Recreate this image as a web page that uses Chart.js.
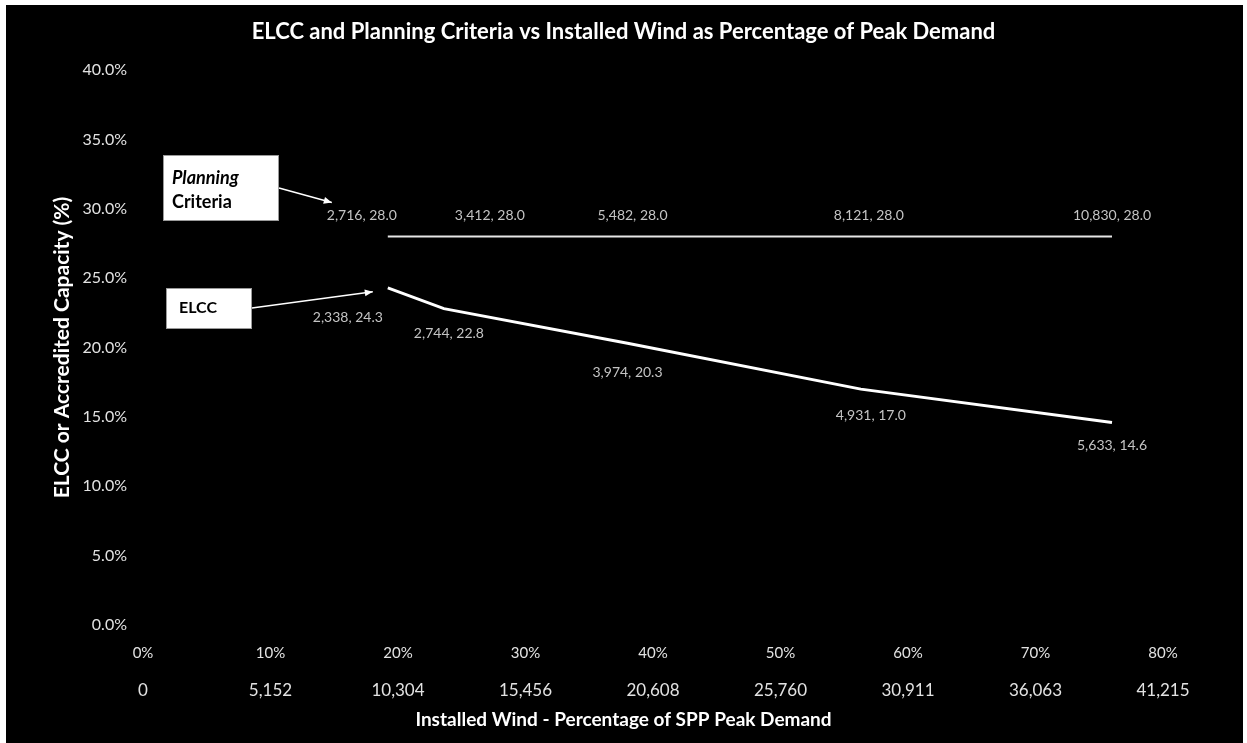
<!DOCTYPE html>
<html>
<head>
<meta charset="utf-8">
<script src="https://cdn.jsdelivr.net/npm/chart.js@4.4.1/dist/chart.umd.min.js"></script>
<style>
  html, body { margin: 0; padding: 0; background: #ffffff; }
  #wrap { width: 1247px; height: 743px; position: relative; }
  canvas { display: block; }
</style>
</head>
<body>
<div id="wrap"><canvas id="chart" width="1247" height="743"></canvas></div>
<script>
// Installed wind as % of SPP peak demand, for each study case
const installedPct = [19.2, 23.6, 38.0, 56.3, 76.0];
// Planning criteria (%) at each case
const planningCriteria = [28.0, 28.0, 28.0, 28.0, 28.0];
// ELCC (%) at each case
const elccValues = [24.3, 22.8, 20.3, 17.0, 14.6];
// Accredited capacity in MW shown beside each point
const planningMW = ['2,716', '3,412', '5,482', '8,121', '10,830'];
const elccMW = ['2,338', '2,744', '3,974', '4,931', '5,633'];
// Axis tick labels
const pctTickLabels = ['0%', '10%', '20%', '30%', '40%', '50%', '60%', '70%', '80%'];
const mwTickLabels = ['0', '5,152', '10,304', '15,456', '20,608', '25,760', '30,911', '36,063', '41,215'];
const yTickLabels = ['0.0%', '5.0%', '10.0%', '15.0%', '20.0%', '25.0%', '30.0%', '35.0%', '40.0%'];

const FONT = 'Lato, "Open Sans", "DejaVu Sans", sans-serif';
const TICK_COLOR = '#e2e2e2';

// Black panel behind the whole chart
const panel = {
  id: 'panel',
  beforeDraw(chart) {
    const ctx = chart.ctx;
    ctx.save();
    ctx.fillStyle = '#ffffff';
    ctx.fillRect(0, 0, chart.width, chart.height);
    ctx.fillStyle = '#000000';
    ctx.fillRect(6, 5, chart.width - 10, chart.height - 5);
    ctx.restore();
  }
};

// "MW, %" text next to every point
const pointLabels = {
  id: 'pointLabels',
  afterDatasetsDraw(chart) {
    const ctx = chart.ctx;
    ctx.save();
    ctx.font = '14px ' + FONT;
    ctx.fillStyle = '#c4c4c4';
    ctx.textAlign = 'center';
    ctx.textBaseline = 'middle';
    chart.data.datasets.forEach((ds, di) => {
      const meta = chart.getDatasetMeta(di);
      meta.data.forEach((pt, i) => {
        const off = ds.labelOffsets[i];
        const txt = ds.mwLabels[i] + ', ' + ds.data[i].y.toFixed(1);
        ctx.fillText(txt, pt.x + off[0], pt.y + off[1]);
      });
    });
    ctx.restore();
  }
};

function arrow(ctx, x1, y1, x2, y2) {
  ctx.beginPath();
  ctx.moveTo(x1, y1);
  ctx.lineTo(x2, y2);
  ctx.stroke();
  const a = Math.atan2(y2 - y1, x2 - x1);
  const L = 8, W = 3.5;
  ctx.beginPath();
  ctx.moveTo(x2, y2);
  ctx.lineTo(x2 - L * Math.cos(a) + W * Math.sin(a), y2 - L * Math.sin(a) - W * Math.cos(a));
  ctx.lineTo(x2 - L * Math.cos(a) - W * Math.sin(a), y2 - L * Math.sin(a) + W * Math.cos(a));
  ctx.closePath();
  ctx.fill();
}

// Series name callouts with arrows pointing at the first case
const callouts = {
  id: 'callouts',
  afterDraw(chart) {
    const ctx = chart.ctx;
    const p0 = chart.getDatasetMeta(0).data[0];
    const e0 = chart.getDatasetMeta(1).data[0];
    ctx.save();
    ctx.fillStyle = '#ffffff';
    ctx.strokeStyle = '#9a9a9a';
    ctx.lineWidth = 1;
    ctx.fillRect(163, 155, 115, 65);
    ctx.strokeRect(163.5, 155.5, 115, 65);
    ctx.fillRect(166, 288, 85, 40);
    ctx.strokeRect(166.5, 288.5, 85, 40);
    ctx.fillStyle = '#000000';
    ctx.textAlign = 'left';
    ctx.textBaseline = 'middle';
    ctx.font = 'italic bold 18px ' + FONT;
    ctx.fillText('Planning', 172, 178);
    ctx.font = 'bold 18px ' + FONT;
    ctx.fillText('Criteria', 172, 202);
    ctx.font = 'bold 16px ' + FONT;
    ctx.fillText('ELCC', 179, 308);
    ctx.strokeStyle = '#ffffff';
    ctx.fillStyle = '#ffffff';
    ctx.lineWidth = 1.5;
    arrow(ctx, 279, 188, p0.x - 56, p0.y - 34);
    arrow(ctx, 252, 308, e0.x - 15, e0.y + 4);
    ctx.restore();
  }
};

const ctx = document.getElementById('chart').getContext('2d');
new Chart(ctx, {
  type: 'line',
  data: {
    datasets: [
      {
        label: 'Planning Criteria',
        data: installedPct.map((x, i) => ({ x: x, y: planningCriteria[i] })),
        mwLabels: planningMW,
        labelOffsets: [[-26, -21], [46, -21], [5, -21], [8, -21], [0, -21]],
        borderColor: '#e6e6e6',
        borderWidth: 2,
        pointRadius: 0,
        tension: 0,
        xAxisID: 'x',
        yAxisID: 'y'
      },
      {
        label: 'ELCC',
        data: installedPct.map((x, i) => ({ x: x, y: elccValues[i] })),
        mwLabels: elccMW,
        labelOffsets: [[-40, 30], [5, 25], [0, 29], [10, 26], [0, 23]],
        borderColor: '#ffffff',
        borderWidth: 3,
        pointRadius: 0,
        tension: 0,
        xAxisID: 'x',
        yAxisID: 'y'
      }
    ]
  },
  options: {
    responsive: false,
    animation: false,
    devicePixelRatio: 1,
    layout: { padding: 0 },
    plugins: {
      legend: { display: false },
      tooltip: { enabled: false },
      title: {
        display: true,
        text: 'ELCC and Planning Criteria vs Installed Wind as Percentage of Peak Demand',
        color: '#ffffff',
        font: { family: FONT, size: 22, weight: 'bold' },
        padding: { top: 19, bottom: 24.6 }
      },
      subtitle: {
        display: true,
        position: 'bottom',
        text: 'Installed Wind - Percentage of SPP Peak Demand',
        color: '#ffffff',
        font: { family: FONT, size: 19, weight: 'bold' },
        padding: { top: 3.6, bottom: 11.6 }
      }
    },
    scales: {
      x: {
        type: 'linear',
        position: 'bottom',
        weight: 0,
        min: 0,
        max: 80,
        grid: { display: false, drawTicks: false },
        border: { display: false },
        ticks: {
          stepSize: 10,
          padding: 19,
          color: TICK_COLOR,
          font: { family: FONT, size: 15 },
          callback: (v) => pctTickLabels[Math.round(v / 10)]
        },
        afterFit: (s) => { s.height = 45; }
      },
      x2: {
        type: 'linear',
        position: 'bottom',
        weight: 1,
        min: 0,
        max: 80,
        grid: { display: false, drawTicks: false },
        border: { display: false },
        ticks: {
          stepSize: 10,
          padding: 10,
          color: TICK_COLOR,
          font: { family: FONT, size: 17 },
          callback: (v) => mwTickLabels[Math.round(v / 10)]
        },
        afterFit: (s) => { s.height = 35; }
      },
      y: {
        type: 'linear',
        position: 'left',
        min: 0,
        max: 40,
        grid: { display: false, drawTicks: false },
        border: { display: false },
        ticks: {
          stepSize: 5,
          padding: 16,
          color: TICK_COLOR,
          font: { family: FONT, size: 16 },
          callback: (v) => yTickLabels[Math.round(v / 5)]
        },
        title: {
          display: true,
          text: 'ELCC or Accredited Capacity (%)',
          color: '#ffffff',
          font: { family: FONT, size: 21, weight: 'bold' },
          padding: { top: 50, bottom: 0 }
        },
        afterFit: (s) => { s.width = 143; }
      },
      yRight: {
        type: 'linear',
        position: 'right',
        min: 0,
        max: 40,
        grid: { display: false, drawTicks: false },
        border: { display: false },
        ticks: { display: false },
        afterFit: (s) => { s.width = 84; }
      }
    }
  },
  plugins: [panel, pointLabels, callouts]
});
</script>
</body>
</html>
